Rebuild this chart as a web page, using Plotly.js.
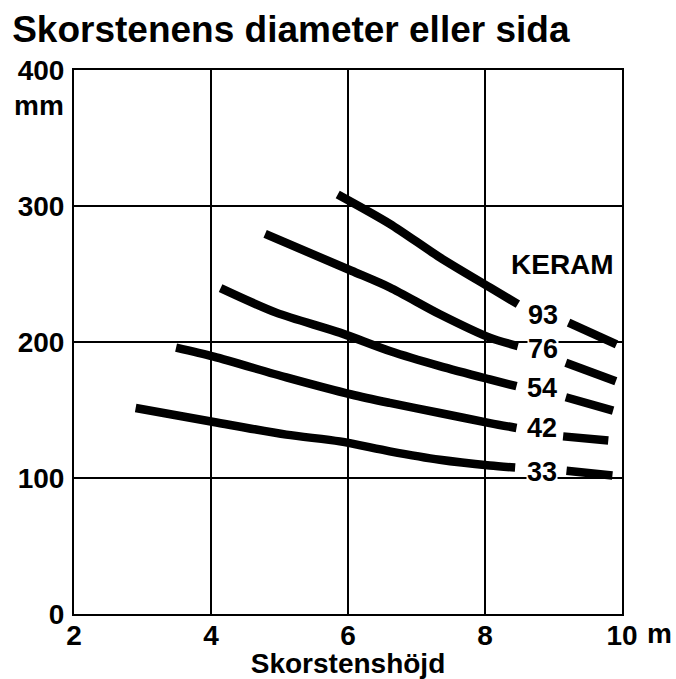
<!DOCTYPE html>
<html>
<head>
<meta charset="utf-8">
<script src="https://cdn.plot.ly/plotly-3.0.1.min.js"></script>
<style>html,body{margin:0;padding:0;background:#fff;}#chart{width:676px;height:679px;}</style>
</head>
<body>
<div id="chart"></div>
<script>
// Chimney height (m) vs. chimney diameter or side (mm), per KERAM type
var seriesNames = ["93", "76", "54", "42", "33"];

var x93 = [5.85, 6.61, 7.34, 8.07, 8.48, null, 9.22, 9.92];
var y93 = [308.5, 286.9, 262.2, 240.1, 227.8, null, 214.2, 198.3];

var x76 = [4.79, 6.05, 6.61, 7.34, 8.07, 8.48, null, 9.18, 9.91];
var y76 = [279.5, 252.4, 240.1, 220.4, 203.2, 197.0, null, 184.7, 171.2];

var x54 = [4.14, 4.95, 5.88, 6.61, 7.34, 8.07, 8.46, null, 9.18, 9.87];
var y54 = [239.6, 221.6, 206.9, 193.4, 182.3, 172.5, 167.5, null, 159.4, 149.6];

var x42 = [3.49, 4.04, 5.10, 6.05, 6.61, 7.34, 8.07, 8.46, null, 9.14, 9.80];
var y42 = [195.8, 189.2, 174.0, 161.4, 155.2, 147.8, 140.4, 136.8, null, 130.6, 127.5];

var x33 = [2.90, 4.04, 5.10, 5.88, 6.61, 7.34, 8.07, 8.44, null, 9.19, 9.86];
var y33 = [151.5, 141.2, 131.9, 126.9, 119.6, 113.4, 109.2, 107.7, null, 105.3, 101.8];

var labelX = [8.85, 8.85, 8.83, 8.83, 8.83];
var labelY = [220, 194.6, 166.3, 136.8, 104.1];

var xTicks = [2, 4, 6, 8, 10];
var xTickText = ["2", "4", "6", "8", "10"];
var yTicks = [0, 100, 200, 300, 400];
var yTickText = ["0", "100", "200", "300", "400"];

var xs = [x93, x76, x54, x42, x33];
var ys = [y93, y76, y54, y42, y33];

var FONT = "Liberation Sans, Arial, Helvetica, sans-serif";

var traces = xs.map(function (xv, i) {
  return {
    x: xv, y: ys[i], name: seriesNames[i],
    type: "scatter", mode: "lines",
    connectgaps: false,
    line: {color: "#000", width: 8.5, shape: "spline", smoothing: 0.8},
    hoverinfo: "skip"
  };
});

var annotations = seriesNames.map(function (n, i) {
  return {
    x: labelX[i], y: labelY[i], xref: "x", yref: "y",
    text: n, showarrow: false, bgcolor: "#fff", borderpad: 0,
    font: {family: FONT, size: 27, color: "#000", weight: "bold"}
  };
});
annotations.push({
  x: 9.13, y: 256.8, xref: "x", yref: "y", text: "KERAM", showarrow: false,
  font: {family: FONT, size: 28, color: "#000", weight: "bold"}
});
annotations.push({
  x: 2, y: 374, xref: "x", yref: "y", text: "mm", showarrow: false,
  xanchor: "right", xshift: -8,
  font: {family: FONT, size: 28, color: "#000", weight: "bold"}
});
annotations.push({
  x: 10, y: 0, xref: "x", yref: "y", text: "m", showarrow: false,
  xanchor: "left", yanchor: "middle", xshift: 23, yshift: -19,
  font: {family: FONT, size: 28, color: "#000", weight: "bold"}
});

var layout = {
  width: 676, height: 679,
  margin: {l: 74, r: 54, t: 70, b: 65, pad: 0},
  paper_bgcolor: "#fff", plot_bgcolor: "#fff",
  showlegend: false,
  title: {
    text: "Skorstenens diameter eller sida",
    xref: "container", yref: "container",
    x: 0.018, xanchor: "left", y: 0.977, yanchor: "top",
    font: {family: FONT, size: 37, color: "#000", weight: "bold"}
  },
  xaxis: {
    range: [2, 10], tickvals: xTicks, ticktext: xTickText,
    showgrid: true, gridcolor: "#000", gridwidth: 2,
    showline: true, mirror: true, linecolor: "#000", linewidth: 2,
    zeroline: false, ticks: "", ticklabelstandoff: -5,
    tickfont: {family: FONT, size: 28, color: "#000", weight: "bold"},
    title: {text: "Skorstenshöjd", standoff: 10,
      font: {family: FONT, size: 28, color: "#000", weight: "bold"}},
    fixedrange: true
  },
  yaxis: {
    range: [0, 400], tickvals: yTicks, ticktext: yTickText,
    showgrid: true, gridcolor: "#000", gridwidth: 2,
    showline: true, mirror: true, linecolor: "#000", linewidth: 2,
    zeroline: false, ticks: "", ticklabelstandoff: 2,
    tickfont: {family: FONT, size: 28, color: "#000", weight: "bold"},
    fixedrange: true
  },
  annotations: annotations
};

Plotly.newPlot("chart", traces, layout, {displayModeBar: false, staticPlot: true});
</script>
</body>
</html>
